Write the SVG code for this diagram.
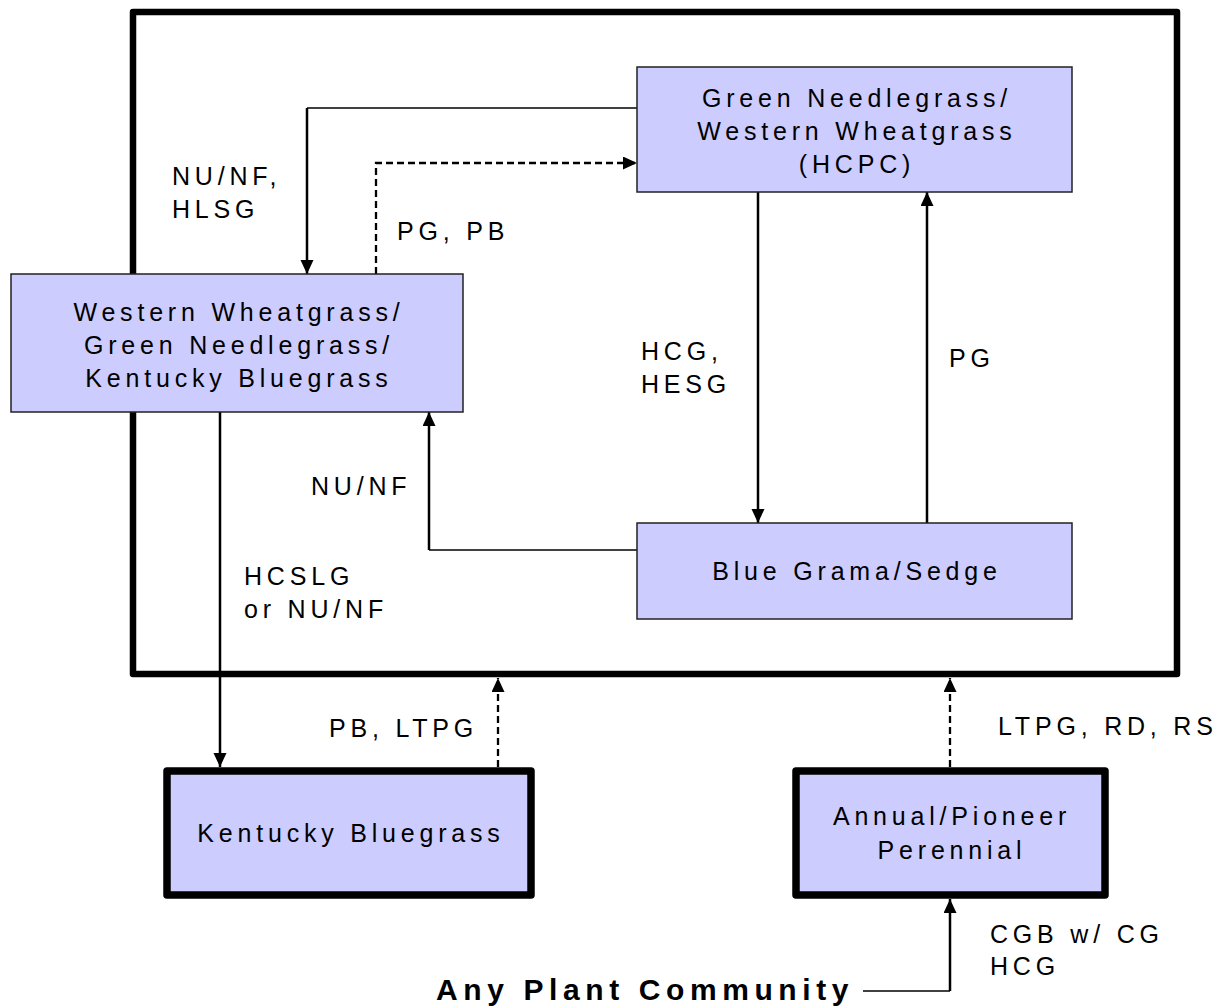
<svg xmlns="http://www.w3.org/2000/svg" width="1225" height="1006" viewBox="0 0 1225 1006">
<defs>
<style>
.t{font-family:"Liberation Sans",Arial,sans-serif;font-size:25px;letter-spacing:4.8px;fill:#000}
.c{text-anchor:middle}
.b{font-weight:bold;font-size:30px;letter-spacing:5.6px}
.box{fill:#ccccff;stroke:#222;stroke-width:1.5}
.tbox{fill:#ccccff;stroke:#000;stroke-width:7.5;stroke-linejoin:round}
.ln{fill:none;stroke:#000;stroke-width:2.5}
.thin{fill:none;stroke:#000;stroke-width:1.4}
.dash{fill:none;stroke:#000;stroke-width:2.3;stroke-dasharray:7 4}
</style>
<marker id="ah" markerUnits="userSpaceOnUse" markerWidth="15" markerHeight="14" refX="14" refY="6.5" orient="auto">
<path d="M0,0 L14,6.5 L0,13 z" fill="#000"/>
</marker>
</defs>
<rect width="1225" height="1006" fill="#fff"/>
<g id="frame">
<rect x="133" y="12" width="1044" height="662" fill="none" stroke="#000" stroke-width="6.5" stroke-linejoin="round"/>
</g>
<g id="connectors">
<path class="thin" d="M637,108 H307"/>
<path class="ln" d="M307,108 V274" marker-end="url(#ah)"/>
<path class="dash" d="M376,274 V163 H637" marker-end="url(#ah)"/>
<path class="ln" d="M758,192 V523" marker-end="url(#ah)"/>
<path class="ln" d="M927,523 V192" marker-end="url(#ah)"/>
<path class="thin" d="M637,550 H429"/>
<path class="ln" d="M429,550 V412" marker-end="url(#ah)"/>
<path class="ln" d="M220,412 V767" marker-end="url(#ah)"/>
<path class="dash" d="M498,767 V678" marker-end="url(#ah)"/>
<path class="dash" d="M950,767 V678" marker-end="url(#ah)"/>
<path class="thin" d="M863,991 H950"/>
<path class="ln" d="M950,991 V899" marker-end="url(#ah)"/>
<text class="t" x="172" y="185">NU/NF,</text>
<text class="t" x="172" y="218">HLSG</text>
<text class="t" x="397" y="240">PG, PB</text>
<text class="t" x="641" y="360">HCG,</text>
<text class="t" x="641" y="393">HESG</text>
<text class="t" x="949" y="367">PG</text>
<text class="t" x="311" y="495">NU/NF</text>
<text class="t" x="244" y="585">HCSLG</text>
<text class="t" x="244" y="618">or NU/NF</text>
<text class="t" x="329" y="737">PB, LTPG</text>
<text class="t" x="998" y="735">LTPG, RD, RS</text>
<text class="t" x="990" y="943">CGB w/ CG</text>
<text class="t" x="990" y="975">HCG</text>
</g>
<g id="hcpc">
<rect class="box" x="637" y="67" width="435" height="125"/>
<text class="t c" x="857" y="107">Green Needlegrass/</text>
<text class="t c" x="857" y="140">Western Wheatgrass</text>
<text class="t c" x="857" y="173">(HCPC)</text>
</g>
<g id="western">
<rect class="box" x="11" y="274" width="452" height="138"/>
<text class="t c" x="239" y="321">Western Wheatgrass/</text>
<text class="t c" x="239" y="354">Green Needlegrass/</text>
<text class="t c" x="239" y="387">Kentucky Bluegrass</text>
</g>
<g id="bluegrama">
<rect class="box" x="637" y="523" width="435" height="96"/>
<text class="t c" x="857" y="580">Blue Grama/Sedge</text>
</g>
<g id="kentucky">
<rect class="tbox" x="167" y="771" width="364" height="124"/>
<text class="t c" x="351" y="842">Kentucky Bluegrass</text>
</g>
<g id="annual">
<rect class="tbox" x="796" y="771" width="309" height="124"/>
<text class="t c" x="952" y="825">Annual/Pioneer</text>
<text class="t c" x="952" y="859">Perennial</text>
</g>
<g id="any">
<text class="t b" x="436" y="1000">Any Plant Community</text>
</g>
</svg>
